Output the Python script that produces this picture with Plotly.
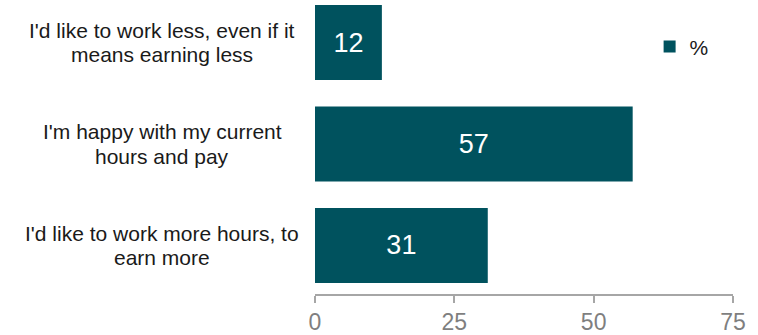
import plotly.graph_objects as go

# Survey responses on working hours vs pay
categories = [
    ["I'd like to work less, even if it", "means earning less"],
    ["I'm happy with my current", "hours and pay"],
    ["I'd like to work more hours, to", "earn more"],
]
values = [12, 57, 31]
x_ticks = [0, 25, 50, 75]

BAR_COLOR = "#00525E"
FONT = "Liberation Sans, Arial, sans-serif"
LINE_GAP = 24.5  # px between the two lines of a category label

fig = go.Figure()
fig.add_trace(go.Bar(
    y=list(range(len(categories))),
    x=values,
    orientation="h",
    name="%",
    marker=dict(color=BAR_COLOR, line=dict(width=0)),
    width=0.74,
    text=[str(v) for v in values],
    textposition="inside",
    insidetextanchor="middle",
    textfont=dict(color="white", size=27, family=FONT),
    showlegend=True,
))

# Category labels: each line is its own centred annotation for tight spacing
for i, lines in enumerate(categories):
    n = len(lines)
    for j, line in enumerate(lines):
        fig.add_annotation(
            x=0, xref="paper", y=i, yref="y",
            text=line, showarrow=False,
            xanchor="center", yanchor="middle", align="center",
            xshift=-153,
            yshift=((n - 1) / 2 - j) * LINE_GAP,
            font=dict(size=21, color="#1a1a1a", family=FONT),
        )

fig.update_layout(
    width=758, height=335,
    margin=dict(l=315, r=25, t=0, b=41, autoexpand=False),
    plot_bgcolor="white", paper_bgcolor="white",
    font=dict(family=FONT),
    xaxis=dict(
        range=[0, 75], tickvals=x_ticks, ticktext=[str(t) for t in x_ticks],
        showgrid=False, zeroline=False,
        showline=True, linecolor="#a6a6a6", linewidth=1.5,
        ticks="outside", ticklen=7, tickcolor="#a6a6a6", tickwidth=1.5,
        tickfont=dict(size=23, color="#7f7f7f", family=FONT),
    ),
    yaxis=dict(
        range=[2.478, -0.419], showticklabels=False,
        showgrid=False, zeroline=False, showline=False,
    ),
    legend=dict(
        xref="container", yref="container",
        x=0.857, y=0.86, xanchor="left", yanchor="middle",
        font=dict(size=21, color="#1a1a1a", family=FONT),
        bgcolor="rgba(0,0,0,0)", itemwidth=30,
    ),
)

fig.write_html("out.html")
